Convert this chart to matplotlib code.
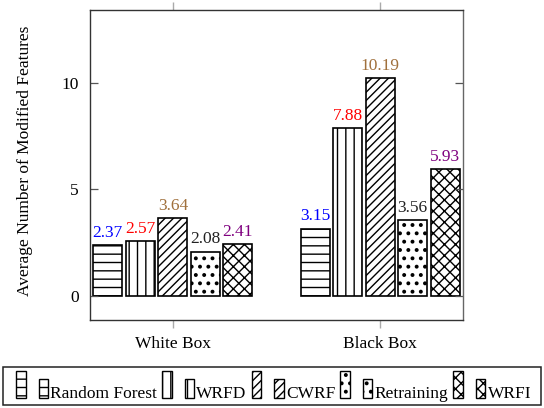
import matplotlib
matplotlib.use("Agg")
import matplotlib.pyplot as plt
import numpy as np
from matplotlib.patches import Rectangle
from matplotlib.legend_handler import HandlerBase

plt.rcParams['font.family'] = ['Liberation Serif', 'DejaVu Serif']
plt.rcParams['hatch.linewidth'] = 1.0

groups = ["White Box", "Black Box"]
methods = ["Random Forest", "WRFD", "CWRF", "Retraining", "WRFI"]
values = {
    "Random Forest": [2.37, 3.15],
    "WRFD": [2.57, 7.88],
    "CWRF": [3.64, 10.19],
    "Retraining": [2.08, 3.56],
    "WRFI": [2.41, 5.93],
}
hatches = ["--", "||", "////", "..", "xxx"]
hatch_lw = [1.0, 1.0, 1.0, 1.6, 1.0]
label_colors = ["#0000ff", "#ff0000", "#a0703c", "#222222", "#7f007f"]
yticks = [0, 5, 10]

FS = 12.5
LFS = 12.5

fig = plt.figure(figsize=(5.44, 4.08), dpi=100)
ax = fig.add_axes([90 / 544, 88 / 408, 373 / 544, 310 / 408])

x = np.arange(len(groups))
width = 0.14
step = 0.157
handles = []
for i, m in enumerate(methods):
    pos = x + (i - 2) * step
    bars = ax.bar(pos, values[m], width, facecolor="white", edgecolor="black",
                  hatch=hatches[i], linewidth=1.2, label=m)
    for b in bars:
        if hasattr(b, "set_hatch_linewidth"):
            b.set_hatch_linewidth(hatch_lw[i])
    handles.append(bars[0])
    for p, v in zip(pos, values[m]):
        ax.text(p, v + 0.2, f"{v:.2f}", ha="center", va="bottom",
                color=label_colors[i], fontsize=FS)

ax.set_xlim(-0.40, 1.40)
ax.set_ylim(-1.13, 13.4)
ax.set_xticks(x)
ax.set_xticklabels(groups, fontsize=FS)
ax.set_yticks(yticks)
ax.set_yticklabels([str(t) for t in yticks], fontsize=FS)
ax.tick_params(axis="y", direction="in", left=True, right=True, length=5.5, width=0.9,
               colors="#555555", labelcolor="black", pad=8)
ax.tick_params(axis="x", direction="out", top=True, bottom=True, length=6, width=1.0,
               colors="#aaaaaa", labelcolor="black", pad=5.5)
ax.set_ylabel("Average Number of Modified Features", fontsize=FS)
ax.yaxis.set_label_coords(-0.152, 0.515)
for name, s in ax.spines.items():
    s.set_linewidth(1.0)
    s.set_color("#333333")
ax.spines["right"].set_color("#666666")


class TwoBoxHandler(HandlerBase):
    def __init__(self, hlw):
        super().__init__()
        self.hlw = hlw

    def create_artists(self, legend, orig_handle, xdescent, ydescent, width, height, fontsize, trans):
        w = width * 0.30
        h1 = height * 2.2
        h2 = height * 1.55
        y0 = -ydescent
        arts = []
        for x0, hh in [(-xdescent, h1), (-xdescent + width - w, h2)]:
            r = Rectangle((x0, y0), w, hh, facecolor="white", edgecolor="black",
                          hatch=orig_handle.get_hatch(), linewidth=1.0, transform=trans)
            if hasattr(r, "set_hatch_linewidth"):
                r.set_hatch_linewidth(self.hlw)
            arts.append(r)
        return arts


leg = fig.legend(handles, methods, loc="center", bbox_to_anchor=(0.503, 0.0348), ncol=5,
                 handler_map={h: TwoBoxHandler(hatch_lw[i]) for i, h in enumerate(handles)},
                 fontsize=LFS, frameon=False,
                 handlelength=1.84, handleheight=0.7, handletextpad=0.12, columnspacing=0.3,
                 borderpad=0, borderaxespad=0)

frame = Rectangle((3 / 544, 3 / 408), 538 / 544, 38 / 408, transform=fig.transFigure,
                  facecolor="none", edgecolor="#222222", linewidth=1.1)
fig.patches.append(frame)

fig.savefig("out.png", dpi=100)
